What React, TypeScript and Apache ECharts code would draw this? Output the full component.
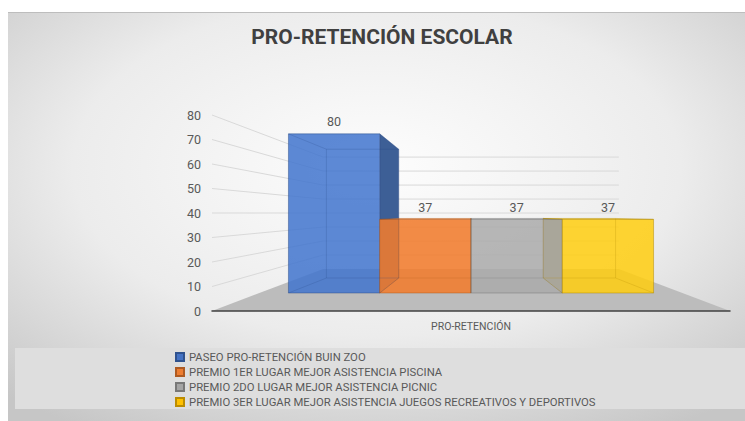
import React, { useEffect, useRef } from "react";
import * as echarts from "echarts";

const TITLE = "PRO-RETENCIÓN ESCOLAR";
const CATEGORIES = ["PRO-RETENCIÓN"];
const SERIES_NAMES = [
  "PASEO PRO-RETENCIÓN BUIN ZOO",
  "PREMIO 1ER LUGAR MEJOR ASISTENCIA PISCINA",
  "PREMIO 2DO LUGAR MEJOR ASISTENCIA PICNIC",
  "PREMIO 3ER LUGAR MEJOR ASISTENCIA JUEGOS RECREATIVOS Y DEPORTIVOS",
];
const SERIES_VALUES = [80, 37, 37, 37];
const Y_TICKS = [0, 10, 20, 30, 40, 50, 60, 70, 80];

// styles
const FONT = "Roboto, 'Open Sans', sans-serif";
const LEGEND_COLORS = ["#4472c4", "#ed7d31", "#a5a5a5", "#ffc000"];
const LEGEND_BORDERS = ["#2f528f", "#ae5a21", "#787878", "#bc8c00"];
const FRONT_FILL = ["rgba(65,116,206,0.85)", "rgba(241,124,46,0.88)", "rgba(170,170,170,0.85)", "rgba(255,206,15,0.85)"];
const SIDE_FILL = ["#3d5f96", "#b85a1e", "#8a8a8a", "#a38f40"];
const TOP_FILL = ["#6f96da", "#f5a36b", "#c4c4c4", "#ffdc55"];
const EDGE = ["rgba(40,70,130,0.45)", "rgba(170,85,25,0.45)", "rgba(110,110,110,0.45)", "rgba(180,140,0,0.5)"];

// perspective planes relative to the grid (front of the floor)
const PL_FRONT = { kx: 0.812, ky: 0.812, dy: -18 };
const PL_BACK = { kx: 0.643, ky: 0.657, dy: -33 };
const PL_WALL = { kx: 0.571, ky: 0.571, dy: -42 };
const BAND_PAD = 0.066;

function proj(pl: any, X: number, Y: number, xc: number, yb: number) {
  return [xc + (X - xc) * pl.kx, yb + (Y - yb) * pl.ky + pl.dy];
}

function wallRender(params: any, api: any) {
  const cs = params.coordSys;
  const xc = cs.x + cs.width / 2;
  const yb = cs.y + cs.height;
  const v = api.value(1);
  const Y = api.coord([0, v])[1];
  const L = cs.x;
  const R = cs.x + cs.width;
  const wl = proj(PL_WALL, L, Y, xc, yb);
  const wr = proj(PL_WALL, R, Y, xc, yb);
  const children: any[] = [];
  if (v === 0) {
    children.push({
      type: "polygon",
      z2: 0,
      shape: { points: [[L, Y], [R, Y], wr, wl] },
      style: { fill: "#bcbcbc", stroke: "none" },
    });
  } else {
    children.push({
      type: "polyline",
      z2: 1,
      shape: { points: [[L, Y], wl, wr] },
      style: { stroke: "#d9d9d9", lineWidth: 1, fill: "none" },
    });
  }
  return { type: "group", children };
}

function makeBarRender(i: number) {
  return (params: any, api: any) => {
    const cs = params.coordSys;
    const xc = cs.x + cs.width / 2;
    const yb = cs.y + cs.height;
    const cat = api.value(0);
    const v = api.value(1);
    const center = api.coord([cat, 0])[0];
    const band = api.size([1, 0])[0];
    const total = band * (1 - 2 * BAND_PAD);
    const w = total / SERIES_VALUES.length;
    const X0 = center - total / 2 + i * w;
    const X1 = X0 + w;
    const Y0 = api.coord([cat, 0])[1];
    const Yv = api.coord([cat, v])[1];
    const fBL = proj(PL_FRONT, X0, Y0, xc, yb);
    const fBR = proj(PL_FRONT, X1, Y0, xc, yb);
    const fTL = proj(PL_FRONT, X0, Yv, xc, yb);
    const fTR = proj(PL_FRONT, X1, Yv, xc, yb);
    const bBL = proj(PL_BACK, X0, Y0, xc, yb);
    const bBR = proj(PL_BACK, X1, Y0, xc, yb);
    const bTL = proj(PL_BACK, X0, Yv, xc, yb);
    const bTR = proj(PL_BACK, X1, Yv, xc, yb);
    const children: any[] = [];
    if (X1 <= xc + 1) {
      children.push({
        type: "polygon",
        z2: 3,
        shape: { points: [fBR, fTR, bTR, bBR] },
        style: { fill: SIDE_FILL[i], stroke: EDGE[i], lineWidth: 0.5 },
      });
    }
    if (X0 >= xc - 1) {
      children.push({
        type: "polygon",
        z2: 3,
        shape: { points: [fBL, fTL, bTL, bBL] },
        style: { fill: SIDE_FILL[i], stroke: EDGE[i], lineWidth: 0.5 },
      });
    }
    if (bTL[1] < fTL[1] - 0.5) {
      children.push({
        type: "polygon",
        z2: 4,
        shape: { points: [fTL, fTR, bTR, bTL] },
        style: { fill: TOP_FILL[i], stroke: EDGE[i], lineWidth: 0.5 },
      });
    }
    children.push({
      type: "polygon",
      z2: 10 + i,
      shape: { points: [fBL, fTL, fTR, fBR] },
      style: { fill: FRONT_FILL[i], stroke: EDGE[i], lineWidth: 1 },
    });
    // hidden edges seen through the translucent front
    children.push({
      type: "polygon",
      z2: 20,
      shape: { points: [bBL, bTL, bTR, bBR] },
      style: { fill: "none", stroke: EDGE[i], lineWidth: 0.8, opacity: 0.6 },
    });
    [[fTL, bTL], [fBL, bBL], [fTR, bTR], [fBR, bBR]].forEach((seg) => {
      children.push({
        type: "line",
        z2: 20,
        shape: { x1: seg[0][0], y1: seg[0][1], x2: seg[1][0], y2: seg[1][1] },
        style: { stroke: EDGE[i], lineWidth: 0.8, opacity: 0.6 },
      });
    });
    children.push({
      type: "text",
      z2: 30,
      x: (fTL[0] + fTR[0]) / 2,
      y: fTL[1] - 12,
      style: {
        text: String(v),
        fill: "#595959",
        fontSize: 12.5,
        fontFamily: FONT,
        align: "center",
        verticalAlign: "middle",
      },
    });
    return { type: "group", children };
  };
}

export default function App() {
  const ref = useRef<HTMLDivElement>(null);
  useEffect(() => {
    if (!ref.current) return;
    const chart = echarts.init(ref.current, undefined, { renderer: "svg" });
    const barSeries = SERIES_NAMES.map((name, i) => ({
      type: "custom",
      name,
      renderItem: makeBarRender(i),
      data: [[0, SERIES_VALUES[i]]],
      encode: { x: 0, y: 1 },
      itemStyle: { color: LEGEND_COLORS[i], borderColor: LEGEND_BORDERS[i], borderWidth: 1 },
      silent: true,
    }));
    chart.setOption({
      animation: false,
      graphic: [
        {
          type: "rect",
          z: -10,
          shape: { x: 8, y: 12, width: 737, height: 409 },
          style: {
            fill: new echarts.graphic.RadialGradient(0.5, 0.38, 0.75, [
              { offset: 0, color: "#fdfdfd" },
              { offset: 0.55, color: "#ececec" },
              { offset: 1, color: "#c6c6c6" },
            ]),
          },
        },
        {
          type: "line",
          z: -8,
          shape: { x1: 8, y1: 12.5, x2: 745, y2: 12.5 },
          style: { stroke: "#bdbdbd", lineWidth: 1 },
        },
        {
          type: "rect",
          z: -9,
          shape: { x: 15, y: 348, width: 730, height: 61 },
          style: { fill: "#dedede" },
        },
        {
          type: "text",
          z: 10,
          x: 382,
          y: 37,
          style: {
            text: TITLE,
            fill: "#404040",
            fontSize: 21,
            fontWeight: "bold",
            fontFamily: FONT,
            align: "center",
            verticalAlign: "middle",
          },
        },
      ],
      grid: { left: 212, right: 15, top: 115, bottom: 110, containLabel: false },
      legend: {
        data: SERIES_NAMES,
        orient: "vertical",
        left: 170,
        top: 345,
        itemWidth: 8,
        itemHeight: 8,
        itemGap: 1,
        icon: "rect",
        selectedMode: false,
        textStyle: { color: "#595959", fontSize: 11.3, fontFamily: FONT, lineHeight: 14 },
      },
      xAxis: {
        type: "category",
        data: CATEGORIES,
        z: 5,
        axisLine: { lineStyle: { color: "#404040", width: 1.5 } },
        axisTick: { show: false },
        axisLabel: { color: "#595959", fontSize: 10.5, fontFamily: FONT, margin: 10 },
      },
      yAxis: {
        type: "value",
        min: 0,
        max: 80,
        interval: 10,
        axisLine: { show: false },
        axisTick: { show: false },
        splitLine: { show: false },
        axisLabel: { color: "#595959", fontSize: 12.5, fontFamily: FONT, margin: 11 },
      },
      series: [
        {
          type: "custom",
          name: "__walls",
          renderItem: wallRender,
          data: Y_TICKS.map((t) => [0, t]),
          encode: { x: 0, y: 1 },
          silent: true,
        },
        ...barSeries,
      ],
    });
    return () => chart.dispose();
  }, []);
  return (
    <div
      ref={ref}
      style={{ position: "fixed", left: 0, top: 0, width: 745, height: 421, background: "#ffffff" }}
    />
  );
}
